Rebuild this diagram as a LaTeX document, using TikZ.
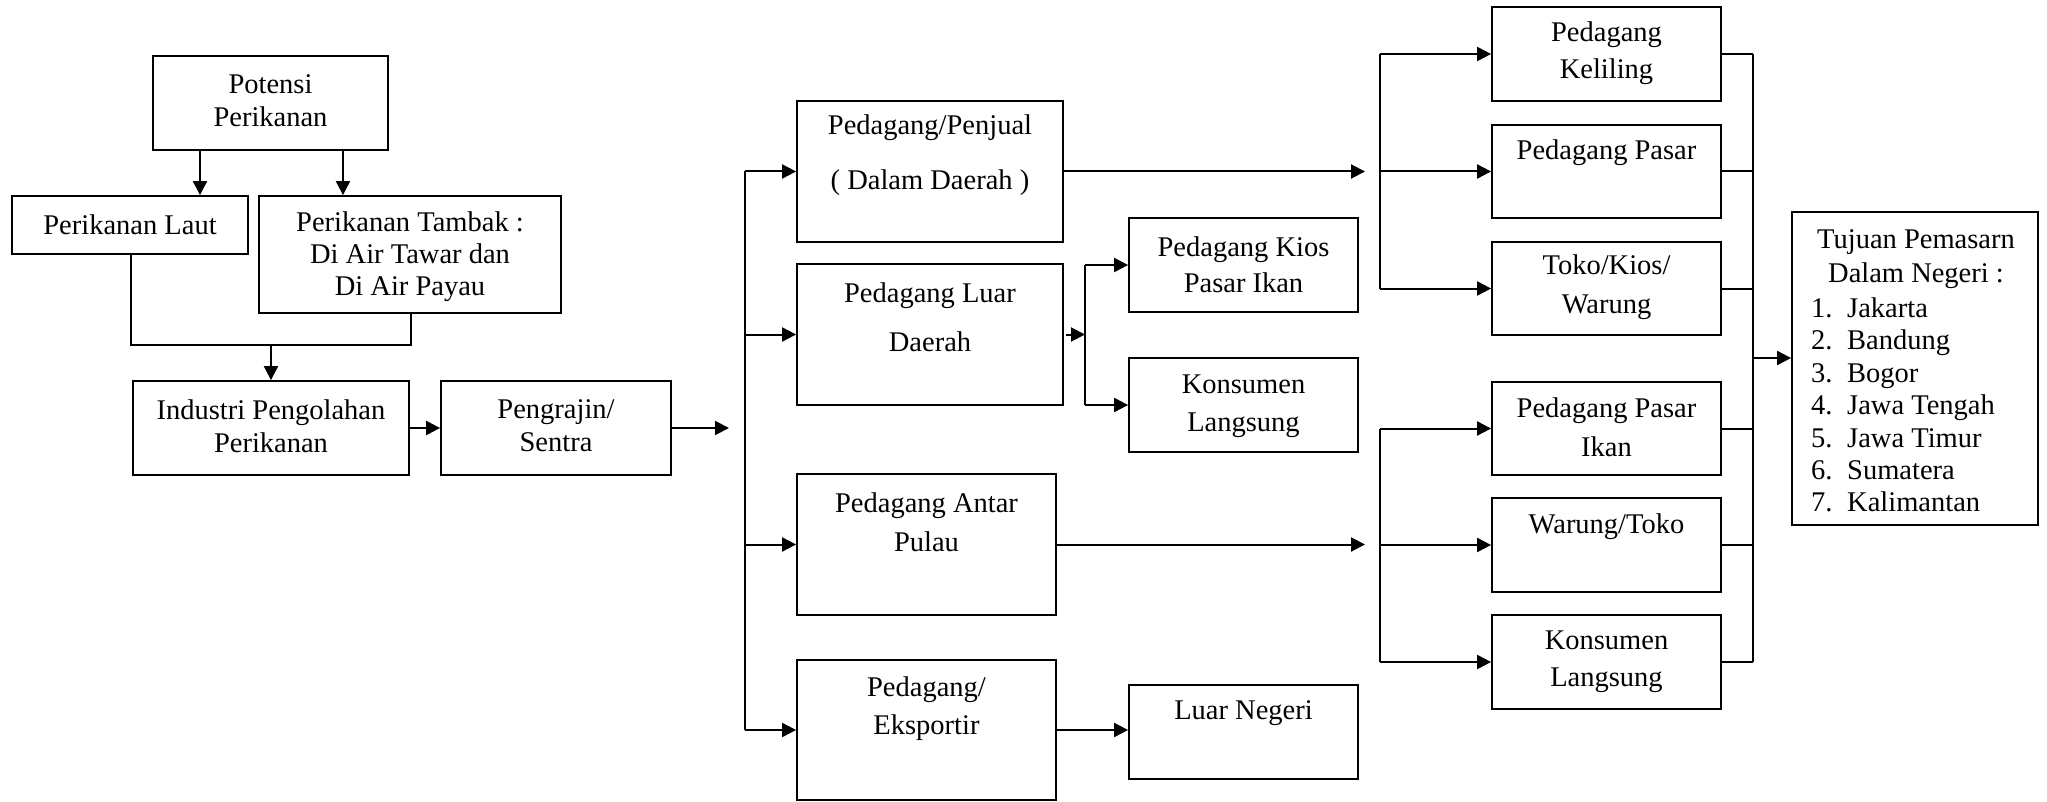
\documentclass[tikz,border=0pt]{standalone}
\usepackage{fontspec}
\setmainfont{Liberation Serif}
\usetikzlibrary{arrows.meta}
\tikzset{
  box/.style={draw, line width=1.8pt, inner sep=0pt},
  txt/.style={inner sep=0pt, align=center, font=\fontsize{28.5}{33}\selectfont},
  ln/.style={line width=2pt},
  arr/.style={line width=2pt, -{Triangle[length=14pt,width=14pt]}},
}
\newcommand\lsp[1]{\fontsize{28.5}{#1}\selectfont}
\begin{document}
\begin{tikzpicture}[x=1pt,y=-1pt]
\useasboundingbox (0,0) rectangle (2047,802);

% ---------- left part ----------
\node[box, minimum width=235pt, minimum height=94pt] (pot) at (270.5,103) {};
\node[txt] (pot-t) at (270.5,101) {Potensi\\Perikanan};

\node[box, minimum width=236pt, minimum height=58pt] (laut) at (130,225) {};
\node[txt] (laut-t) at (130,225) {Perikanan Laut};

\node[box, minimum width=302pt, minimum height=117pt] (tambak) at (410,254.5) {};
\node[txt, font=\lsp{32}] (tambak-t) at (410,256.5) {Perikanan Tambak :\\Di Air Tawar dan\\Di Air Payau};

\node[box, minimum width=276pt, minimum height=94pt] (ind) at (271,428) {};
\node[txt] (ind-t) at (271,426) {Industri Pengolahan\\Perikanan};

\node[box, minimum width=230pt, minimum height=94pt] (peng) at (556,428) {};
\node[txt] (peng-t) at (556,426) {Pengrajin/\\Sentra};

% ---------- middle column ----------
\node[box, minimum width=266pt, minimum height=141pt] (penjual) at (930,171.5) {};
\node[txt, font=\lsp{55}] (penjual-t) at (930,155.5) {Pedagang/Penjual\\( Dalam Daerah )};

\node[box, minimum width=266pt, minimum height=141pt] (luard) at (930,334.5) {};
\node[txt, font=\lsp{49}] (luard-t) at (930,317.5) {Pedagang Luar\\Daerah};

\node[box, minimum width=259pt, minimum height=141pt] (antar) at (926.5,544.5) {};
\node[txt, font=\lsp{39}] (antar-t) at (926.5,522.5) {Pedagang Antar\\Pulau};

\node[box, minimum width=259pt, minimum height=140pt] (ekspor) at (926.5,730) {};
\node[txt, font=\lsp{38}] (ekspor-t) at (926.5,709) {Pedagang/\\Eksportir};

% ---------- second column ----------
\node[box, minimum width=229pt, minimum height=94pt] (kios) at (1243.5,265) {};
\node[txt, font=\lsp{36}] (kios-t) at (1243.5,265) {Pedagang Kios\\Pasar Ikan};

\node[box, minimum width=229pt, minimum height=94pt] (konsA) at (1243.5,405) {};
\node[txt, font=\lsp{38}] (konsA-t) at (1243.5,406) {Konsumen\\Langsung};

\node[box, minimum width=229pt, minimum height=94pt] (luarneg) at (1243.5,732) {};
\node[txt] (luarneg-t) at (1243.5,713) {Luar Negeri};

% ---------- third column ----------
\node[box, minimum width=229pt, minimum height=94pt] (keliling) at (1606.5,54) {};
\node[txt, font=\lsp{37}] (keliling-t) at (1606.5,53.5) {Pedagang\\Keliling};

\node[box, minimum width=229pt, minimum height=93pt] (pasar) at (1606.5,171.5) {};
\node[txt] (pasar-t) at (1606.5,153) {Pedagang Pasar};

\node[box, minimum width=229pt, minimum height=93pt] (toko) at (1606.5,288.5) {};
\node[txt, font=\lsp{39}] (toko-t) at (1606.5,287.5) {Toko/Kios/\\Warung};

\node[box, minimum width=229pt, minimum height=93pt] (pasarikan) at (1606.5,428.5) {};
\node[txt, font=\lsp{39}] (pasarikan-t) at (1606.5,427.5) {Pedagang Pasar\\Ikan};

\node[box, minimum width=229pt, minimum height=94pt] (warung) at (1606.5,545) {};
\node[txt] (warung-t) at (1606.5,527) {Warung/Toko};

\node[box, minimum width=229pt, minimum height=94pt] (konsB) at (1606.5,662) {};
\node[txt, font=\lsp{37}] (konsB-t) at (1606.5,661.5) {Konsumen\\Langsung};

% ---------- destination ----------
\node[box, minimum width=246pt, minimum height=313pt] (tujuan) at (1915,368.5) {};
\node[txt, font=\lsp{34}] (tujuan-t) at (1916,259) {Tujuan Pemasarn\\Dalam Negeri :};
\node[txt, align=left, anchor=west, font=\lsp{32.4}] (tujuan-l) at (1811,405) {%
\makebox[36pt][l]{1.}Jakarta\\
\makebox[36pt][l]{2.}Bandung\\
\makebox[36pt][l]{3.}Bogor\\
\makebox[36pt][l]{4.}Jawa Tengah\\
\makebox[36pt][l]{5.}Jawa Timur\\
\makebox[36pt][l]{6.}Sumatera\\
\makebox[36pt][l]{7.}Kalimantan};

% ---------- connectors ----------
\draw[arr] (200,0 |- pot.south) -- (200,0 |- laut.north);
\draw[arr] (343,0 |- pot.south) -- (343,0 |- tambak.north);
\coordinate (join) at (271,345);
\draw[ln] (131,0 |- laut.south) -- (131,345) -- (411,345) -- (411,0 |- tambak.south);
\draw[arr] (join) -- (join |- ind.north);
\draw[arr] (ind.east) -- (peng.west);
\coordinate (pin) at (729,428);
\draw[arr] (peng.east) -- (pin);

% trunk
\draw[ln] (745,0 |- penjual.west) -- (745,0 |- ekspor.west);
\draw[arr] (745,0 |- penjual.west) -- (penjual.west);
\draw[arr] (745,0 |- luard.west) -- (luard.west);
\draw[arr] (745,0 |- antar.west) -- (antar.west);
\draw[arr] (745,0 |- ekspor.west) -- (ekspor.west);

% upper fork
\coordinate (fu) at (1365,171.5);
\draw[arr] (penjual.east) -- (fu);
\draw[ln] (1380,0 |- keliling.west) -- (1380,0 |- toko.west);
\draw[arr] (1380,0 |- keliling.west) -- (keliling.west);
\draw[arr] (1380,0 |- pasar.west) -- (pasar.west);
\draw[arr] (1380,0 |- toko.west) -- (toko.west);

% luar daerah fork
\coordinate (fl) at (1085,334.5);
\draw[arr] ([xshift=2pt]luard.east) -- (fl);
\draw[ln] (1085,0 |- kios.west) -- (1085,0 |- konsA.west);
\draw[arr] (1085,0 |- kios.west) -- (kios.west);
\draw[arr] (1085,0 |- konsA.west) -- (konsA.west);

% lower fork
\coordinate (fd) at (1365,544.5);
\draw[arr] (antar.east) -- (fd);
\draw[ln] (1380,0 |- pasarikan.west) -- (1380,0 |- konsB.west);
\draw[arr] (1380,0 |- pasarikan.west) -- (pasarikan.west);
\draw[arr] (1380,0 |- warung.west) -- (warung.west);
\draw[arr] (1380,0 |- konsB.west) -- (konsB.west);

% export
\draw[arr] (ekspor.east) -- (luarneg.west |- ekspor.east);

% collector
\foreach \b in {keliling,pasar,toko,pasarikan,warung,konsB}
  \draw[ln] (\b.east) -- (1753,0 |- \b.east);
\draw[ln] (1753,0 |- keliling.east) -- (1753,0 |- konsB.east);
\coordinate (col) at (1753,358);
\draw[arr] (col) -- (tujuan.west |- col);
\end{tikzpicture}
\end{document}
